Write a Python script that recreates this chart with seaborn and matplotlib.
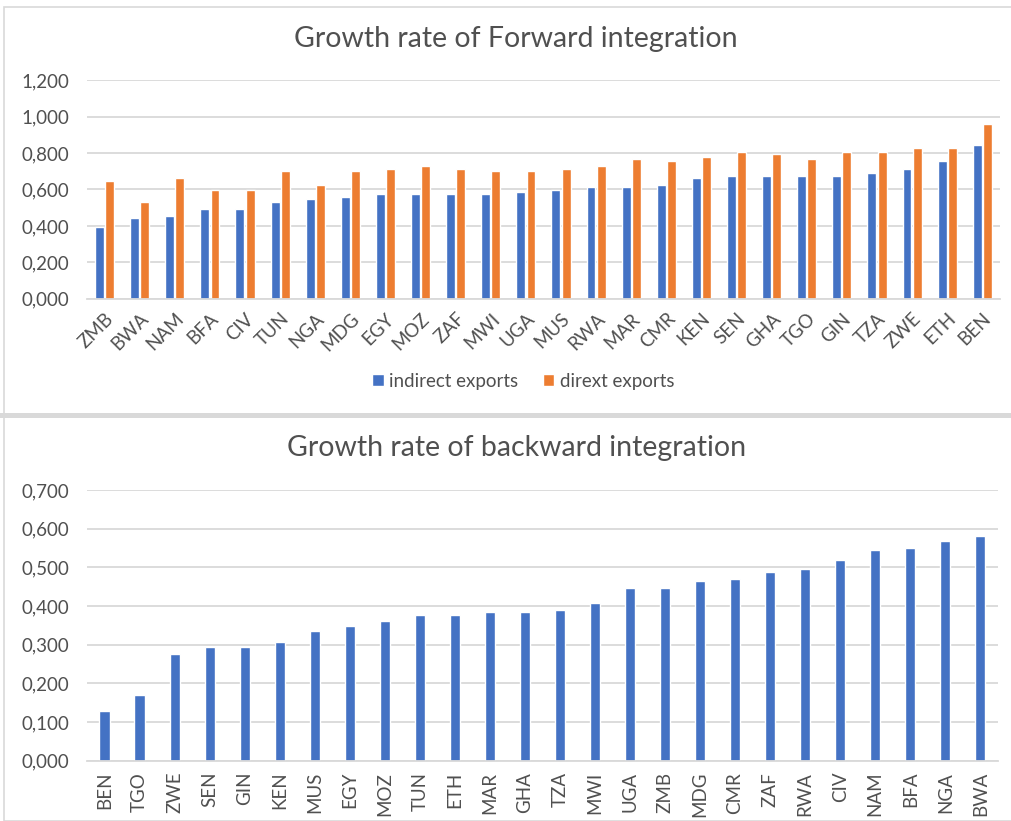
import numpy as np
import pandas as pd
import matplotlib.pyplot as plt
import seaborn as sns
from matplotlib.patches import Rectangle, Patch
from matplotlib.ticker import FuncFormatter, MultipleLocator

fwd_countries = ['ZMB', 'BWA', 'NAM', 'BFA', 'CIV', 'TUN', 'NGA', 'MDG', 'EGY', 'MOZ', 'ZAF', 'MWI', 'UGA',
                 'MUS', 'RWA', 'MAR', 'CMR', 'KEN', 'SEN', 'GHA', 'TGO', 'GIN', 'TZA', 'ZWE', 'ETH', 'BEN']
indirect_exports = [0.393, 0.443, 0.457, 0.494, 0.494, 0.534, 0.547, 0.560, 0.573, 0.573, 0.573, 0.573, 0.585,
                    0.598, 0.611, 0.611, 0.624, 0.662, 0.675, 0.675, 0.675, 0.675, 0.688, 0.715, 0.754, 0.843]
direct_exports = [0.649, 0.534, 0.662, 0.598, 0.598, 0.700, 0.624, 0.700, 0.715, 0.728, 0.715, 0.700, 0.700,
                  0.715, 0.728, 0.766, 0.754, 0.779, 0.805, 0.792, 0.766, 0.805, 0.805, 0.830, 0.830, 0.960]

bwd_countries = ['BEN', 'TGO', 'ZWE', 'SEN', 'GIN', 'KEN', 'MUS', 'EGY', 'MOZ', 'TUN', 'ETH', 'MAR', 'GHA',
                 'TZA', 'MWI', 'UGA', 'ZMB', 'MDG', 'CMR', 'ZAF', 'RWA', 'CIV', 'NAM', 'BFA', 'NGA', 'BWA']
backward = [0.129, 0.171, 0.276, 0.294, 0.294, 0.306, 0.336, 0.349, 0.361, 0.378, 0.378, 0.385, 0.385,
            0.391, 0.409, 0.447, 0.447, 0.465, 0.471, 0.489, 0.495, 0.519, 0.544, 0.550, 0.568, 0.580]

series_names = ['indirect exports', 'dirext exports']
blue = '#4472C4'
orange = '#ED7D31'
grid_c = '#D9D9D9'
text_c = '#505050'

sns.set_style('white')
plt.rcParams['font.family'] = ['Lato', 'DejaVu Sans']

fig = plt.figure(figsize=(10.12, 8.21), dpi=100)

# panel frames
fig.add_artist(Rectangle((4 / 1012, 0), 1.0, 814 / 821, transform=fig.transFigure,
                         fill=False, edgecolor=grid_c, lw=1.2))
fig.add_artist(Rectangle((0, 403 / 821), 1.0, 5 / 821, transform=fig.transFigure,
                         facecolor=grid_c, edgecolor='none'))

fmt = FuncFormatter(lambda v, p: f'{v:.3f}'.replace('.', ','))


def style_axes(ax, top, step):
    ax.set_ylim(0, top)
    ax.yaxis.set_major_locator(MultipleLocator(step))
    ax.yaxis.set_major_formatter(fmt)
    ax.grid(axis='y', color=grid_c, lw=1.3)
    ax.set_axisbelow(True)
    for s in ['left', 'right', 'top']:
        ax.spines[s].set_visible(False)
    ax.spines['bottom'].set_color(grid_c)
    ax.spines['bottom'].set_linewidth(1.3)
    ax.tick_params(length=0, colors=text_c, labelsize=13.5)
    ax.tick_params(axis='y', pad=13)
    ax.set_xlabel('')
    ax.set_ylabel('')


# top chart
df_top = pd.DataFrame({
    'country': fwd_countries * 2,
    'value': indirect_exports + direct_exports,
    'series': [series_names[0]] * len(fwd_countries) + [series_names[1]] * len(fwd_countries),
})
ax1 = fig.add_axes([0.086, 0.636, 0.902, 0.2664])
sns.barplot(data=df_top, x='country', y='value', hue='series', palette=[blue, orange],
            width=0.58, gap=0.12, saturation=1, ax=ax1, legend=False)
style_axes(ax1, 1.2, 0.2)
ax1.set_xlim(-0.5, len(fwd_countries) - 0.5)
plt.setp(ax1.get_xticklabels(), rotation=45, ha='right', rotation_mode='anchor')
ax1.tick_params(axis='x', pad=8)
fig.text(0.51, 1 - 39 / 821, 'Growth rate of Forward integration', ha='center', va='center',
         fontsize=20.5, color=text_c)
handles = [Patch(facecolor=blue), Patch(facecolor=orange)]
fig.legend(handles, series_names, loc='center', bbox_to_anchor=(0.517, 1 - 381 / 821), ncol=2,
           frameon=False, fontsize=13.5, labelcolor=text_c, handlelength=0.6, handleheight=0.6,
           handletextpad=0.3, columnspacing=1.3)

# bottom chart
df_bot = pd.DataFrame({'country': bwd_countries, 'value': backward})
ax2 = fig.add_axes([0.086, 0.0734, 0.900, 0.3297])
sns.barplot(data=df_bot, x='country', y='value', color=blue, saturation=1, width=0.29, ax=ax2)
style_axes(ax2, 0.7, 0.1)
ax2.set_xlim(-0.5, len(bwd_countries) - 0.5)
plt.setp(ax2.get_xticklabels(), rotation=90)
ax2.tick_params(axis='x', pad=8)
fig.text(0.51, 1 - 448 / 821, 'Growth rate of backward integration', ha='center', va='center',
         fontsize=20.5, color=text_c)

fig.savefig('out.png', dpi=100)
plt.close(fig)
